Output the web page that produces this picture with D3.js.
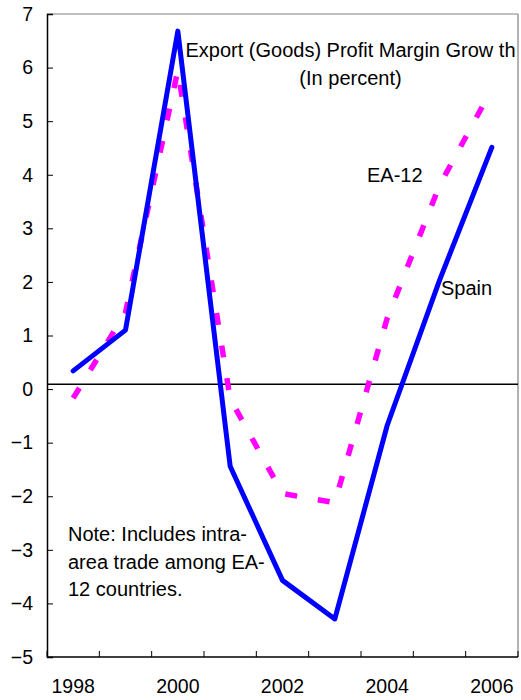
<!DOCTYPE html>
<html>
<head>
<meta charset="utf-8">
<script src="https://cdn.jsdelivr.net/npm/d3@7"></script>
<style>
  body { margin: 0; background: #fff; }
  svg text { font-family: "Liberation Sans", Arial, sans-serif; fill: #000; }
</style>
</head>
<body>
<div id="chart"></div>
<script>
// chart data
var years = [1998, 1999, 2000, 2001, 2002, 2003, 2004, 2005, 2006];
var spain = [0.34, 1.1, 6.68, -1.44, -3.57, -4.29, -0.68, 2.03, 4.51];
var ea12 = [-0.17, 1.43, 5.95, -0.18, -1.95, -2.12, 1.32, 3.80, 5.60];
var yTicks = [-5, -4, -3, -2, -1, 0, 1, 2, 3, 4, 5, 6, 7];
var xLabels = [1998, 2000, 2002, 2004, 2006];
var refLine = 0.09; // horizontal rule sits a touch above the 0 tick in the original
var titleLines = ["Export (Goods) Profit Margin Grow th", "(In percent)"];
var noteLines = ["Note: Includes intra-", "area trade among EA-", "12 countries."];

var width = 521, height = 700;
var margin = {top: 14, right: 3, bottom: 43, left: 47};
var w = width - margin.left - margin.right,
    h = height - margin.top - margin.bottom;

var svg = d3.select("#chart").append("svg")
    .attr("width", width)
    .attr("height", height)
  .append("g")
    .attr("transform", "translate(" + margin.left + "," + margin.top + ")");

// scales
var x = d3.scaleBand()
    .domain(years)
    .range([0, w])
    .padding(0);

var y = d3.scaleLinear()
    .domain([-5, 7])
    .range([h, 0]);

function cx(d, i) { return x(years[i]) + x.bandwidth() / 2; }

// frame: top & right grey
svg.append("line")
    .attr("x1", 0).attr("x2", w).attr("y1", 0).attr("y2", 0)
    .attr("stroke", "#808080").attr("stroke-width", 1.2);
svg.append("line")
    .attr("x1", w).attr("x2", w).attr("y1", 0).attr("y2", h)
    .attr("stroke", "#808080").attr("stroke-width", 1.2);

// y axis
var yAxis = d3.axisLeft(y)
    .tickValues(yTicks)
    .tickSize(-6)
    .tickPadding(14)
    .tickFormat(d3.format("d"));

var gy = svg.append("g").attr("class", "y-axis").call(yAxis);
gy.select(".domain").attr("stroke", "#000").attr("stroke-width", 1.5);
gy.selectAll(".tick line").attr("stroke", "#000");
gy.selectAll("text").attr("font-size", 19.5).attr("font-family", "Liberation Sans, Arial, sans-serif");

// x axis: labels at band centers, tick marks at band edges
var xAxis = d3.axisBottom(x)
    .tickValues(xLabels)
    .tickSize(0)
    .tickPadding(22.5);

var gx = svg.append("g")
    .attr("class", "x-axis")
    .attr("transform", "translate(0," + h + ")")
    .call(xAxis);
gx.select(".domain").remove();
gx.selectAll("text").attr("font-size", 19.5).attr("font-family", "Liberation Sans, Arial, sans-serif");

var edges = years.map(function(d) { return x(d); }).concat([x(years[years.length - 1]) + x.bandwidth()]);
svg.append("g").selectAll("line")
    .data(edges)
  .enter().append("line")
    .attr("x1", function(d) { return d; })
    .attr("x2", function(d) { return d; })
    .attr("y1", h)
    .attr("y2", h - 6)
    .attr("stroke", "#000");

svg.append("line")
    .attr("x1", 0).attr("x2", w).attr("y1", h).attr("y2", h)
    .attr("stroke", "#000").attr("stroke-width", 1.5);

// reference line
svg.append("line")
    .attr("x1", 0).attr("x2", w)
    .attr("y1", y(refLine)).attr("y2", y(refLine))
    .attr("stroke", "#000").attr("stroke-width", 1.3);

// lines
var line = d3.line()
    .x(function(d, i) { return cx(d, i); })
    .y(function(d) { return y(d); });

svg.append("path")
    .datum(ea12)
    .attr("fill", "none")
    .attr("stroke", "#ff00ff")
    .attr("stroke-width", 5.5)
    .attr("stroke-dasharray", "12,21")
    .attr("d", line);

svg.append("path")
    .datum(spain)
    .attr("fill", "none")
    .attr("stroke", "#0000ff")
    .attr("stroke-width", 5)
    .attr("stroke-linejoin", "round")
    .attr("stroke-linecap", "round")
    .attr("d", line);

// title
svg.append("g").selectAll("text")
    .data(titleLines)
  .enter().append("text")
    .attr("x", 350.5 - margin.left)
    .attr("y", function(d, i) { return 57 - margin.top + i * 28; })
    .attr("text-anchor", "middle")
    .attr("font-size", 20)
    .text(function(d) { return d; });

// series labels
svg.append("text")
    .attr("x", 367 - margin.left).attr("y", 182 - margin.top)
    .attr("font-size", 20)
    .text("EA-12");

svg.append("text")
    .attr("x", 441 - margin.left).attr("y", 295 - margin.top)
    .attr("font-size", 20)
    .text("Spain");

// note
svg.append("g").selectAll("text")
    .data(noteLines)
  .enter().append("text")
    .attr("x", 68 - margin.left)
    .attr("y", function(d, i) { return 541 - margin.top + i * 27.5; })
    .attr("font-size", 20)
    .text(function(d) { return d; });
</script>
</body>
</html>
